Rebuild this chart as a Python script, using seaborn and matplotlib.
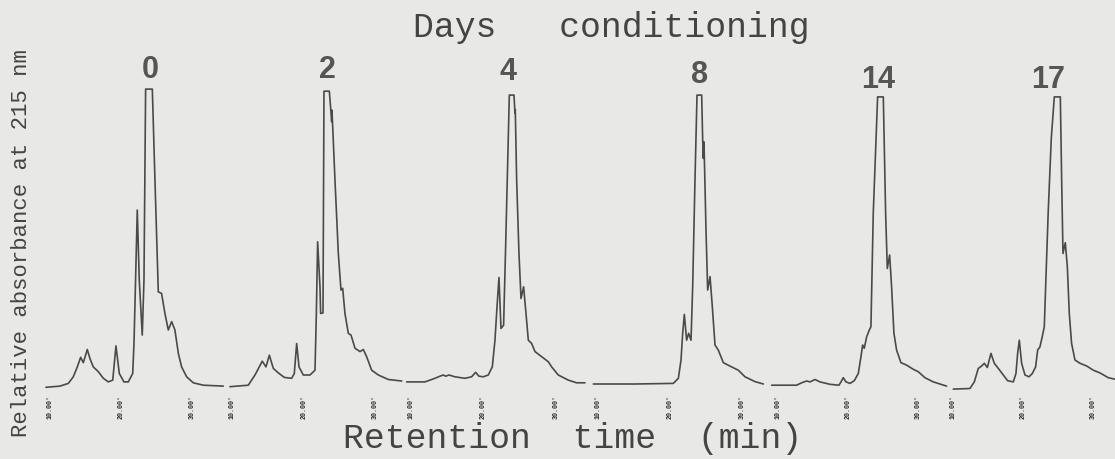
import matplotlib
matplotlib.use("Agg")
import matplotlib.pyplot as plt
import seaborn as sns

# chromatograms: retention time (min) and relative absorbance (0-100, 100 = off scale)
days = ["0", "2", "4", "8", "14", "17"]

t_day0 = [9.44, 11.4, 12.57, 13.27, 13.83, 14.3, 14.67, 15.23, 15.6, 16.07, 16.78, 17.48, 18.18, 18.8,
          19.25, 19.72, 20.37, 20.98, 21.6, 21.78, 22.0, 22.24, 22.52, 22.94, 23.18, 23.41, 24.35, 24.72,
          25.19, 25.65, 26.12, 26.59, 27.06, 27.52, 28.0, 28.46, 29.16, 30.1, 31.5, 34.3]
a_day0 = [0.9, 1.3, 2.2, 4.4, 7.7, 10.9, 9.1, 13.5, 10.5, 7.7, 6.1, 3.9, 2.7, 3.3,
          14.7, 5.5, 2.7, 2.7, 5.5, 15.5, 36.6, 60.0, 36.6, 18.3, 36.6, 100.3, 100.3, 70.0,
          32.7, 32.2, 25.5, 20.0, 22.8, 20.0, 12.2, 7.7, 4.4, 2.4, 1.6, 1.3]

t_day2 = [9.67, 12.24, 13.18, 14.2, 14.72, 15.19, 15.75, 16.45, 17.29, 18.32, 18.69, 19.02, 19.35, 19.95,
          20.89, 21.59, 21.78, 21.96, 22.29, 22.38, 22.71, 22.85, 23.6, 23.74, 23.93, 23.97, 24.39, 24.86,
          25.23, 25.47, 25.79, 26.26, 26.64, 27.2, 27.9, 28.36, 28.83, 29.53, 30.47, 31.87, 33.74]
a_day2 = [1.1, 1.6, 5.0, 9.6, 7.7, 11.6, 7.2, 5.7, 4.2, 3.9, 5.5, 15.5, 7.7, 5.0,
          5.0, 6.6, 25.5, 49.4, 34.4, 25.5, 25.7, 99.6, 99.6, 95.3, 89.4, 93.3, 70.0, 45.5,
          33.3, 33.9, 25.5, 18.9, 18.3, 13.9, 12.8, 13.5, 11.1, 6.6, 5.0, 3.5, 3.0]

t_day4 = [9.43, 11.95, 13.33, 14.02, 14.48, 14.8, 15.26, 16.09, 17.47, 18.39, 18.94, 19.4, 20.0, 20.69,
          21.24, 21.61, 21.89, 22.16, 22.44, 22.8, 23.08, 23.59, 24.23, 24.37, 24.41, 24.6, 24.92, 25.2,
          25.56, 25.89, 26.21, 26.67, 27.13, 28.05, 28.97, 29.43, 30.34, 31.72, 32.87, 34.02]
a_day4 = [2.7, 2.7, 3.9, 4.6, 5.0, 4.6, 5.0, 4.4, 3.9, 4.4, 5.9, 4.6, 4.4, 5.0,
          7.7, 16.6, 27.7, 37.5, 20.5, 21.6, 47.8, 98.3, 98.3, 92.2, 93.5, 70.0, 45.5, 30.5,
          34.4, 25.5, 16.6, 15.5, 12.8, 11.1, 9.4, 7.7, 5.0, 3.3, 2.4, 2.4]

t_day8 = [9.35, 15.14, 20.46, 21.16, 21.53, 21.76, 21.99, 22.31, 22.59, 22.92, 23.15, 23.47, 23.75, 24.4,
          24.54, 24.63, 24.72, 25.0, 25.23, 25.56, 25.88, 26.25, 26.71, 27.41, 28.56, 29.49, 30.42, 31.8,
          32.96]
a_day8 = [2.0, 2.0, 2.2, 3.9, 10.0, 18.9, 25.2, 16.6, 18.9, 16.6, 34.4, 70.0, 98.3, 98.3,
          83.3, 77.2, 82.7, 53.3, 33.3, 37.8, 27.7, 15.0, 13.3, 9.1, 7.7, 6.6, 4.4, 2.8,
          2.0]

t_day14 = [9.1, 12.65, 13.36, 14.08, 14.55, 15.26, 15.97, 17.39, 18.67, 18.96, 19.29, 19.67, 20.24, 20.85,
           21.42, 21.8, 22.04, 22.27, 22.61, 22.99, 23.22, 23.55, 24.17, 24.98, 25.31, 25.55, 25.88, 26.16,
           26.49, 26.87, 27.49, 28.29, 29.24, 29.95, 30.9, 32.09, 33.98]
a_day14 = [1.6, 1.6, 2.4, 3.0, 2.7, 3.5, 2.7, 1.9, 1.6, 2.7, 4.1, 2.7, 2.2, 3.1,
           5.5, 11.1, 15.0, 13.9, 17.7, 20.0, 21.1, 58.9, 97.7, 97.7, 58.9, 40.5, 45.0, 34.4,
           18.9, 13.3, 9.1, 8.3, 6.9, 6.1, 4.1, 2.7, 1.3]

t_day17 = [10.0, 12.38, 13.0, 13.57, 14.05, 14.43, 14.86, 15.38, 15.86, 16.43, 17.14, 17.76, 18.57, 18.95,
           19.19, 19.43, 19.76, 20.24, 20.81, 21.29, 21.76, 22.05, 22.38, 22.71, 23.0, 23.2, 23.57, 24.0,
           24.43, 25.29, 25.48, 25.67, 26.0, 26.29, 26.57, 26.9, 27.38, 28.1, 29.05, 30.0, 30.95, 32.14, 33.1]
a_day17 = [0.3, 0.5, 2.7, 7.2, 8.0, 8.9, 7.5, 12.2, 8.9, 7.2, 5.0, 3.1, 2.7, 5.5,
           12.2, 16.6, 8.9, 5.0, 4.4, 5.5, 7.7, 13.3, 14.4, 17.8, 21.1, 35.0, 60.0, 84.0,
           97.7, 97.7, 70.0, 45.5, 49.1, 41.1, 25.5, 15.5, 10.0, 8.9, 8.0, 6.6, 5.7, 4.1, 3.6]

times = [t_day0, t_day2, t_day4, t_day8, t_day14, t_day17]
absorb = [a_day0, a_day2, a_day4, a_day8, a_day14, a_day17]
tick_times = [10, 20, 30]
tick_labels = ["10.00'", "20.00'", "30.00'"]

# layout in pixels (figure 1115 x 459)
W, H = 1115, 459
panel_px = [(40, 228), (228, 405), (405, 590), (590, 769), (769, 950), (950, 1115)]
p10_px = [50, 232.3, 410.8, 598, 778, 953.3]
ppm = [7.13, 7.135, 7.25, 7.2, 7.03, 7.0]
label_x = [150, 327, 508, 700, 878, 1048]
label_base = [78, 78, 80, 83, 88, 88]
top_px, bot_px = 80, 395

sns.set_theme(style="white")
bg = "#e8e8e6"
ink = "#4a4a4a"
plt.rcParams["font.family"] = ["Liberation Mono", "DejaVu Sans Mono"]

fig = plt.figure(figsize=(W / 100, H / 100), dpi=100, facecolor=bg)

for i in range(len(days)):
    l, r = panel_px[i]
    ax = fig.add_axes([l / W, 1 - bot_px / H, (r - l) / W, (bot_px - top_px) / H])
    ax.set_facecolor("none")
    sns.lineplot(x=times[i], y=absorb[i], ax=ax, color=ink, lw=1.2,
                 sort=False, estimator=None)
    ax.set_xlim(10 + (l - p10_px[i]) / ppm[i], 10 + (r - p10_px[i]) / ppm[i])
    ax.set_ylim((390 - bot_px) / 3, (390 - top_px) / 3)
    ax.set_xticks(tick_times)
    ax.set_xticklabels(tick_labels, rotation=90, fontsize=4.8, fontweight="bold",
                       color="#2a2a2a", family="Liberation Mono")
    ax.tick_params(axis="x", length=0, pad=0)
    ax.set_yticks([])
    ax.set_xlabel("")
    ax.set_ylabel("")
    for s in ax.spines.values():
        s.set_visible(False)
    fig.text(label_x[i] / W, 1 - label_base[i] / H, days[i], ha="center", va="baseline",
             fontsize=22, fontweight="bold", color="#555555",
             family=["Liberation Sans", "DejaVu Sans"])

fig.text(413 / W, 1 - 37 / H, "Days   conditioning", ha="left", va="baseline",
         fontsize=25, color="#444444")
fig.text(343 / W, 1 - 448 / H, "Retention  time  (min)", ha="left", va="baseline",
         fontsize=25, color="#444444")
fig.text(22 / W, 1 - 243 / H, "Relative absorbance at 215 nm", ha="center", va="center",
         rotation=90, fontsize=16, color="#444444")

fig.savefig("out.png", dpi=100, facecolor=bg)
